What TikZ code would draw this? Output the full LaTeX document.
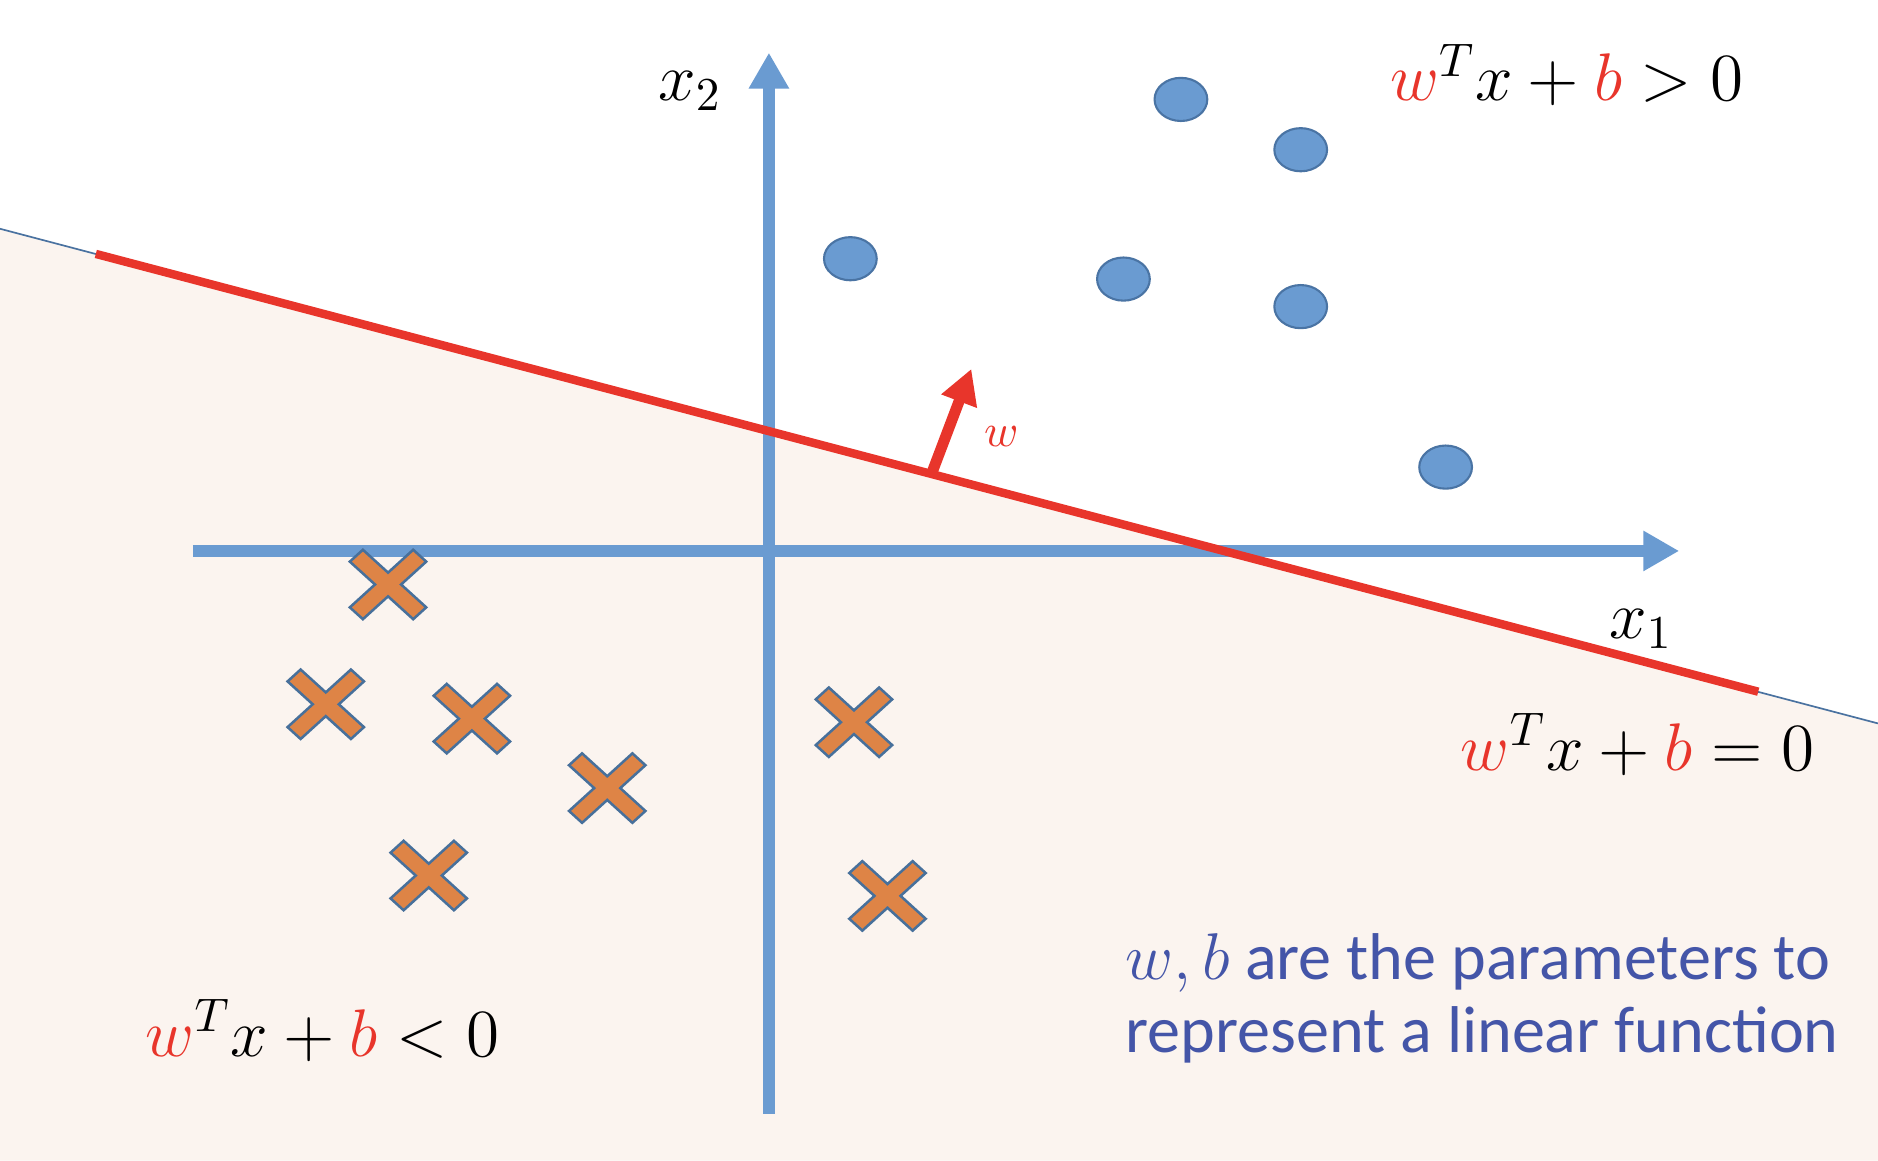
\RequirePackage{fix-cm}
\documentclass[tikz,border=0pt]{standalone}
\usepackage{fontspec}
\newfontfamily\calibrifont{Carlito}
\usetikzlibrary{arrows.meta,shapes.geometric}
\definecolor{axisblue}{RGB}{106,155,209}
\definecolor{dotline}{RGB}{74,116,164}
\definecolor{eqred}{RGB}{232,53,43}
\definecolor{xorange}{RGB}{222,132,70}
\definecolor{xline}{RGB}{71,112,155}
\definecolor{peach}{RGB}{251,244,239}
\definecolor{textblue}{RGB}{68,85,168}
\definecolor{bline}{RGB}{74,114,160}
\begin{document}
\begin{tikzpicture}[x=0.01cm,y=-0.01cm,
  dot/.style={ellipse, draw=dotline, line width=0.5pt, fill=axisblue,
    minimum width=0.44cm, minimum height=0.36cm, inner sep=0pt},
  eq/.style={font=\fontsize{16}{19}\selectfont, inner sep=0pt, anchor=base west},
  axis/.style={draw=axisblue, line width=2.8pt, -{Triangle[width=9pt,length=8.5pt]}},
  bluetext/.style={font=\calibrifont\fontsize{15.7}{17.4}\selectfont, text=textblue,
    inner sep=0pt, anchor=base west},
  xmark/.pic={\filldraw[fill=xorange, draw=xline, line width=0.6pt, xscale=1.1, rotate=45]
    (-7,34) -- (7,34) -- (7,7) -- (34,7) -- (34,-7) -- (7,-7) -- (7,-34) -- (-7,-34)
    -- (-7,-7) -- (-34,-7) -- (-34,7) -- (-7,7) -- cycle;}
]
\useasboundingbox (0,0) rectangle (1568,969);
\fill[white] (0,0) rectangle (1568,969);
% region below the boundary
\coordinate (b0) at (0,191);
\coordinate (b1) at (1568,604);
\fill[peach] (b0) -- (b1) -- (1568,969) -- (0,969) -- cycle;
\draw[bline, line width=0.4pt] (b0) -- (b1);

% axes
\coordinate (xl) at (161,460);
\coordinate (xr) at (1402,460);
\coordinate (yb) at (642,930);
\coordinate (yt) at (642,44);
\draw[axis] (xl) -- (xr);
\draw[axis] (yb) -- (yt);

% decision boundary
\coordinate (r0) at (80,212);
\coordinate (r1) at (1468,577.5);
\draw[eqred, line width=2pt] (r0) -- (r1);

% normal vector w
\coordinate (wt) at (778,395);
\coordinate (wh) at (811,308);
\draw[eqred, line width=2.6pt, -{Triangle[width=8.5pt,length=8.2pt]}] (wt) -- (wh);
\node[inner sep=0pt, anchor=base west, text=eqred, font=\fontsize{11}{13}\selectfont] (wlab) at (821,373) {$w$};

% positive points
\node[dot] (c1) at (986,83) {};
\node[dot] (c2) at (1086,125) {};
\node[dot] (c3) at (710,216) {};
\node[dot] (c4) at (938,233) {};
\node[dot] (c5) at (1086,256) {};
\node[dot] (c6) at (1207,390) {};

% negative points
\pic at (324,488) {xmark};
\pic at (272,588) {xmark};
\pic at (394,600) {xmark};
\pic at (507,658) {xmark};
\pic at (358,731) {xmark};
\pic at (713,603) {xmark};
\pic at (741,748) {xmark};

% axis labels
\node[eq] (x2lab) at (549,83.5) {$x_2$};
\node[eq] (x1lab) at (1343,533) {$x_1$};

% equations
\node[eq] (gt) at (1160,84) {${\color{eqred}w}^{T}x+{\color{eqred}b}>0$};
\node[eq] (eqz) at (1219,643) {${\color{eqred}w}^{T}x+{\color{eqred}b}=0$};
\node[eq] (lt) at (121,882) {${\color{eqred}w}^{T}x+{\color{eqred}b}<0$};

% explanation
\node[bluetext] (blue1) at (939,818) {$w,b$ are the parameters to};
\node[bluetext] (blue2) at (939,879) {represent a linear function};
\end{tikzpicture}
\end{document}
